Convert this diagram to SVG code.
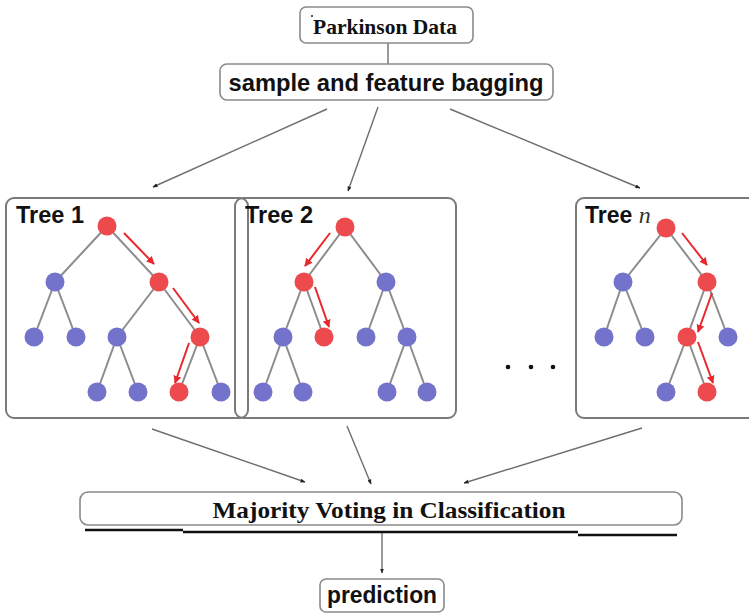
<svg xmlns="http://www.w3.org/2000/svg" width="749" height="613" viewBox="0 0 749 613">
  <defs>
    <marker id="dot-head" viewBox="0 0 10 10" refX="9" refY="5" markerWidth="5" markerHeight="5" orient="auto" markerUnits="userSpaceOnUse">
      <path d="M0,1 L10,5 L0,9 z" fill="#222"/>
    </marker>
    <marker id="red-head" viewBox="0 0 10 10" refX="9" refY="5" markerWidth="8" markerHeight="8" orient="auto" markerUnits="userSpaceOnUse">
      <path d="M0,0 L10,5 L0,10 z" fill="#e8282c"/>
    </marker>
    <style>
      .box { fill: #fff; stroke: #8a8a8a; stroke-width: 1.6; }
      .tbox { fill: none; stroke: #7a7a7a; stroke-width: 2; }
      .conn { stroke: #6e6e6e; stroke-width: 1.4; fill: none; marker-end: url(#dot-head); }
      .edge { stroke: #8c8c8c; stroke-width: 2; }
      .path { stroke: #e8282c; stroke-width: 2; marker-end: url(#red-head); }
      .r { fill: #ec4a4c; }
      .b { fill: #7373cc; }
      .serif { font-family: "Liberation Serif", "Times New Roman", serif; font-weight: bold; fill: #111; }
      .sans { font-family: "Liberation Sans", Arial, sans-serif; fill: #111; }
      .tlabel { font-family: "Liberation Sans", Arial, sans-serif; font-weight: bold; font-size: 23px; fill: #111; }
    </style>
  </defs>

  <!-- connectors -->
  <g id="connectors">
    <line x1="388" y1="43" x2="388" y2="64" stroke="#6e6e6e" stroke-width="1.4"/>
    <line class="conn" x1="327" y1="109" x2="153" y2="187"/>
    <line class="conn" x1="378" y1="107" x2="348" y2="191"/>
    <line class="conn" x1="450" y1="109" x2="640" y2="188"/>
    <line class="conn" x1="152" y1="429" x2="305" y2="482"/>
    <line class="conn" x1="347" y1="426" x2="371" y2="484"/>
    <line class="conn" x1="642" y1="428" x2="464" y2="483"/>
    <line class="conn" x1="382" y1="532" x2="382" y2="573"/>
  </g>

  <!-- top nodes -->
  <g id="parkinson-data">
    <rect class="box" x="300" y="7" width="173" height="36" rx="6"/>
    <circle cx="312" cy="16" r="1" fill="#222"/>
    <text class="serif" x="385" y="34" font-size="21" text-anchor="middle" textLength="144" lengthAdjust="spacingAndGlyphs">Parkinson Data</text>
  </g>
  <g id="bagging">
    <rect class="box" x="220" y="64" width="333" height="36" rx="7"/>
    <text class="sans" x="386" y="91" font-size="24" font-weight="600" text-anchor="middle" textLength="315" lengthAdjust="spacingAndGlyphs">sample and feature bagging</text>
  </g>

  <!-- tree 1 -->
  <g id="tree-1">
    <rect class="tbox" x="6" y="198" width="242" height="220" rx="8"/>
    <text class="tlabel" x="16" y="223" textLength="68" lengthAdjust="spacingAndGlyphs">Tree 1</text>
    <g class="edge">
      <line x1="107" y1="226" x2="55" y2="282"/>
      <line x1="107" y1="226" x2="159" y2="282"/>
      <line x1="55" y1="282" x2="34" y2="337"/>
      <line x1="55" y1="282" x2="76" y2="337"/>
      <line x1="159" y1="282" x2="117" y2="337"/>
      <line x1="159" y1="282" x2="200" y2="337"/>
      <line x1="117" y1="337" x2="97" y2="392"/>
      <line x1="117" y1="337" x2="138" y2="392"/>
      <line x1="200" y1="337" x2="179" y2="392"/>
      <line x1="200" y1="337" x2="221" y2="392"/>
    </g>
    <circle class="r" cx="107" cy="226" r="9.5"/>
    <circle class="b" cx="55" cy="282" r="9.5"/>
    <circle class="r" cx="159" cy="282" r="9.5"/>
    <circle class="b" cx="34" cy="337" r="9.5"/>
    <circle class="b" cx="76" cy="337" r="9.5"/>
    <circle class="b" cx="117" cy="337" r="9.5"/>
    <circle class="r" cx="200" cy="337" r="9.5"/>
    <circle class="b" cx="97" cy="392" r="9.5"/>
    <circle class="b" cx="138" cy="392" r="9.5"/>
    <circle class="r" cx="179" cy="392" r="9.5"/>
    <circle class="b" cx="221" cy="392" r="9.5"/>
    <line class="path" x1="124" y1="233" x2="154" y2="264"/>
    <line class="path" x1="173" y1="288" x2="199" y2="323"/>
    <line class="path" x1="189" y1="343" x2="175" y2="383"/>
  </g>

  <!-- tree 2 -->
  <g id="tree-2">
    <rect class="tbox" x="235" y="198" width="221" height="220" rx="8"/>
    <text class="tlabel" x="245" y="223" textLength="68" lengthAdjust="spacingAndGlyphs">Tree 2</text>
    <g class="edge">
      <line x1="345" y1="227" x2="304" y2="282"/>
      <line x1="345" y1="227" x2="386" y2="282"/>
      <line x1="304" y1="282" x2="283" y2="337"/>
      <line x1="304" y1="282" x2="324" y2="337"/>
      <line x1="386" y1="282" x2="366" y2="337"/>
      <line x1="386" y1="282" x2="407" y2="337"/>
      <line x1="283" y1="337" x2="263" y2="392"/>
      <line x1="283" y1="337" x2="303" y2="392"/>
      <line x1="407" y1="337" x2="387" y2="392"/>
      <line x1="407" y1="337" x2="427" y2="392"/>
    </g>
    <circle class="r" cx="345" cy="227" r="9.5"/>
    <circle class="r" cx="304" cy="282" r="9.5"/>
    <circle class="b" cx="386" cy="282" r="9.5"/>
    <circle class="b" cx="283" cy="337" r="9.5"/>
    <circle class="r" cx="324" cy="337" r="9.5"/>
    <circle class="b" cx="366" cy="337" r="9.5"/>
    <circle class="b" cx="407" cy="337" r="9.5"/>
    <circle class="b" cx="263" cy="392" r="9.5"/>
    <circle class="b" cx="303" cy="392" r="9.5"/>
    <circle class="b" cx="387" cy="392" r="9.5"/>
    <circle class="b" cx="427" cy="392" r="9.5"/>
    <line class="path" x1="330" y1="233" x2="305" y2="266"/>
    <line class="path" x1="315" y1="287" x2="329" y2="327"/>
  </g>

  <!-- ellipsis between trees -->
  <g id="ellipsis" fill="#111">
    <circle cx="508" cy="367" r="2.3"/>
    <circle cx="531" cy="367" r="2.3"/>
    <circle cx="553" cy="367" r="2.3"/>
  </g>

  <!-- tree n -->
  <g id="tree-n">
    <rect class="tbox" x="576" y="198" width="200" height="220" rx="8"/>
    <text class="tlabel" x="585" y="223">Tree <tspan font-family="Liberation Serif, serif" font-style="italic" font-weight="normal" font-size="24" fill="#333">n</tspan></text>
    <g class="edge">
      <line x1="666" y1="228" x2="623" y2="282"/>
      <line x1="666" y1="228" x2="707" y2="282"/>
      <line x1="623" y1="282" x2="604" y2="337"/>
      <line x1="623" y1="282" x2="645" y2="337"/>
      <line x1="707" y1="282" x2="687" y2="337"/>
      <line x1="707" y1="282" x2="728" y2="337"/>
      <line x1="687" y1="337" x2="666" y2="392"/>
      <line x1="687" y1="337" x2="707" y2="392"/>
    </g>
    <circle class="r" cx="666" cy="228" r="9.5"/>
    <circle class="b" cx="623" cy="282" r="9.5"/>
    <circle class="r" cx="707" cy="282" r="9.5"/>
    <circle class="b" cx="604" cy="337" r="9.5"/>
    <circle class="b" cx="645" cy="337" r="9.5"/>
    <circle class="r" cx="687" cy="337" r="9.5"/>
    <circle class="b" cx="728" cy="337" r="9.5"/>
    <circle class="b" cx="666" cy="392" r="9.5"/>
    <circle class="r" cx="707" cy="392" r="9.5"/>
    <line class="path" x1="682" y1="233" x2="707" y2="265"/>
    <line class="path" x1="712" y1="293" x2="698" y2="332"/>
    <line class="path" x1="698" y1="342" x2="713" y2="383"/>
  </g>

  <!-- voting -->
  <g id="majority-voting">
    <rect class="box" x="80" y="492" width="602" height="33" rx="8"/>
    <text class="serif" x="389" y="518" font-size="24" text-anchor="middle" textLength="353" lengthAdjust="spacingAndGlyphs">Majority Voting in Classification</text>
    <path d="M85,530 H183 M183,532 H578 M578,535 H677" stroke="#111" stroke-width="2.4" fill="none"/>
  </g>

  <g id="prediction">
    <rect class="box" x="320" y="579" width="124" height="33" rx="6"/>
    <text class="sans" x="382" y="603" font-size="24" font-weight="600" text-anchor="middle" textLength="110" lengthAdjust="spacingAndGlyphs">prediction</text>
  </g>
</svg>
